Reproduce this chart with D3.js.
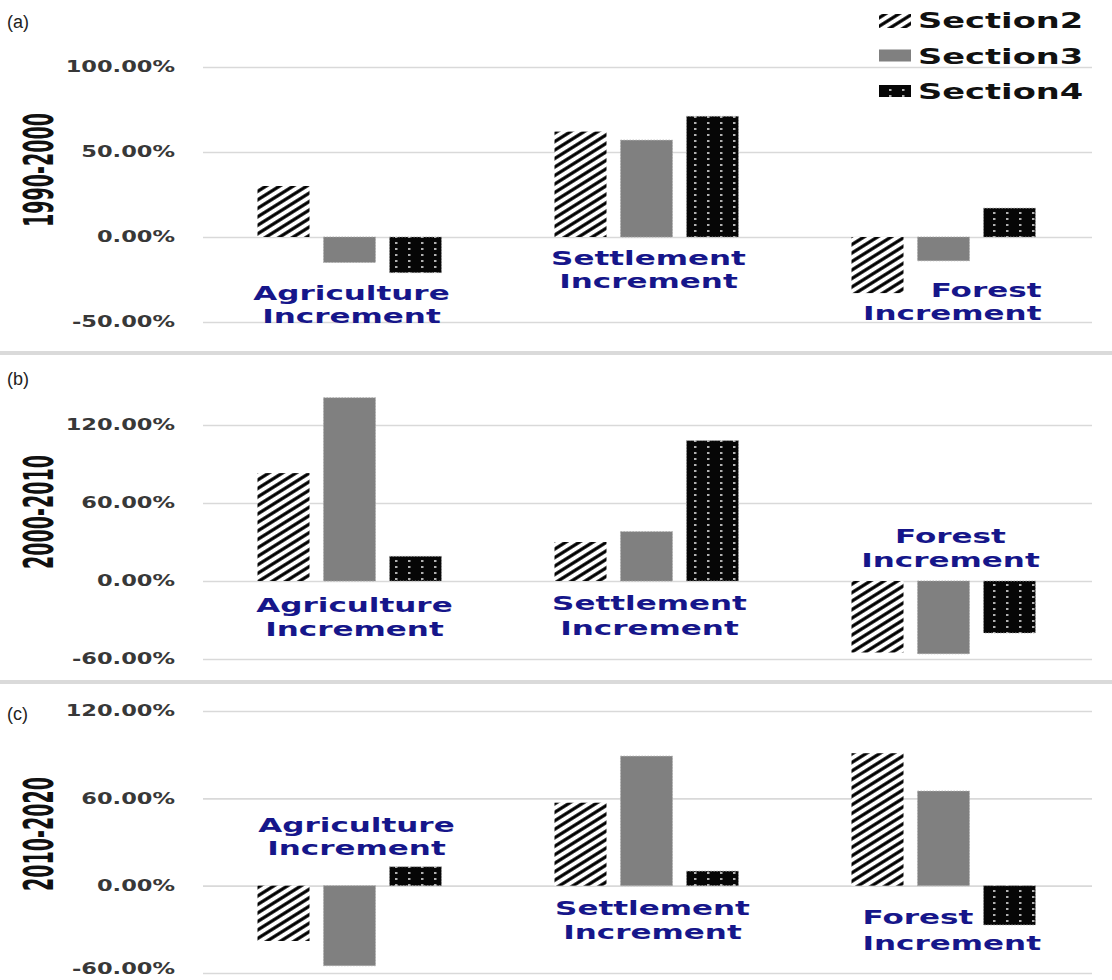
<!DOCTYPE html>
<html>
<head>
<meta charset="utf-8">
<script src="https://cdn.jsdelivr.net/npm/d3@7"></script>
<style>
  body { margin: 0; background: #fff; }
  svg { display: block; }
</style>
</head>
<body>
<div class="chart"></div>
<script>
const categories = ["Agriculture Increment", "Settlement Increment", "Forest Increment"];
const series = ["Section2", "Section3", "Section4"];
const periods = ["1990-2000", "2000-2010", "2010-2020"];
const panelLetters = ["(a)", "(b)", "(c)"];

// values in percent, one row per period, one column per category
const section2 = [[30, 62, -33], [83, 30, -55], [-38, 57, 91]];
const section3 = [[-15, 57, -14], [141, 38, -56], [-55, 89, 65]];
const section4 = [[-21, 71, 17], [19, 108, -40], [13, 10, -27]];

const ticks1990 = [-50, 0, 50, 100];
const ticks2000 = [-60, 0, 60, 120];
const ticks2010 = [-60, 0, 60, 120];

const width = 1112;
const height = 980;

const panels = [
  {domain: [-50, 100], range: [322, 67], ticks: ticks1990, letterY: 28, titleY: 170,
    labels: [{anchor: "middle", dx: 2, dy: [63, 86]}, {anchor: "middle", dx: 2, dy: [28, 51]},
      {anchor: "end", dx: 98, dy: [60, 83]}]},
  {domain: [-60, 120], range: [659, 425], ticks: ticks2000, letterY: 385, titleY: 512,
    labels: [{anchor: "middle", dx: 5, dy: [31, 55]}, {anchor: "middle", dx: 3, dy: [29, 54]},
      {anchor: "middle", dx: 7, dy: [-38, -14]}]},
  {domain: [-60, 120], range: [973, 711], ticks: ticks2010, letterY: 720, titleY: 834,
    labels: [{anchor: "middle", dx: 7, dy: [-54, -31]}, {anchor: "middle", dx: 6, dy: [29, 53]},
      {anchor: "start", dx: -81, dy: [38, 64]}]}
];

const seriesValues = [section2, section3, section4];
const fills = ["url(#hatch)", "#808080", "url(#dots)"];
const labelColor = "#16168a";

const stretch = (sel, k) => {
  sel.each(function () {
    const len = this.getComputedTextLength();
    d3.select(this).attr("textLength", len * k).attr("lengthAdjust", "spacingAndGlyphs");
  });
};

const svg = d3.select("div.chart").append("svg")
  .attr("width", width)
  .attr("height", height);

const defs = svg.append("defs");
const hatch = defs.append("pattern")
  .attr("id", "hatch")
  .attr("patternUnits", "userSpaceOnUse")
  .attr("width", 10)
  .attr("height", 7.2)
  .attr("patternTransform", "rotate(-32)");
hatch.append("rect").attr("width", 10).attr("height", 7.2).attr("fill", "#fff");
hatch.append("line").attr("x1", 0).attr("x2", 10).attr("y1", 3.6).attr("y2", 3.6)
  .attr("stroke", "#000").attr("stroke-width", 3.2);

const dots = defs.append("pattern")
  .attr("id", "dots")
  .attr("patternUnits", "userSpaceOnUse")
  .attr("width", 13)
  .attr("height", 6);
dots.append("rect").attr("width", 13).attr("height", 6).attr("fill", "#060606");
dots.append("rect").attr("x", 5).attr("y", 2).attr("width", 2.5).attr("height", 2).attr("fill", "#b0b0b0");

const x0 = d3.scaleBand().domain(categories).range([201, 1092]);
const x1 = d3.scaleBand().domain(series).range([-99, 99]).paddingInner(0.212).paddingOuter(0.106);

const fmt = (v) => (v < 0 ? "-" : "") + Math.abs(v).toFixed(2) + "%";

// panel separators
svg.selectAll("line.sep")
  .data([353, 682])
  .enter()
  .append("line")
  .attr("class", "sep")
  .attr("x1", 0).attr("x2", width)
  .attr("y1", (d) => d).attr("y2", (d) => d)
  .attr("stroke", "#dadada")
  .attr("stroke-width", 4);

panels.forEach((p, pi) => {
  const y = d3.scaleLinear().domain(p.domain).range(p.range);
  const g = svg.append("g").attr("class", "panel");

  const grid = g.append("g")
    .attr("transform", "translate(203, 0)")
    .call(d3.axisLeft(y).tickValues(p.ticks).tickSize(-889).tickFormat(""));
  grid.select(".domain").remove();
  grid.selectAll(".tick line").attr("stroke", "#d9d9d9").attr("stroke-width", 1.6);

  const axis = g.append("g")
    .attr("transform", "translate(201, 0)")
    .call(d3.axisLeft(y).tickValues(p.ticks).tickSize(0).tickPadding(26).tickFormat(fmt));
  axis.select(".domain").remove();
  axis.selectAll(".tick text")
    .attr("font-family", "DejaVu Sans")
    .attr("font-weight", "bold")
    .attr("font-size", 15)
    .attr("fill", "#383838")
    // keep the lowest label inside the page
    .attr("dy", (d) => y(d) > height - 12 ? "0.05em" : "0.32em")
    .call(stretch, 1.5);

  // bars
  series.forEach((s, si) => {
    g.append("g")
      .selectAll("rect")
      .data(categories.map((c, ci) => ({c, v: seriesValues[si][pi][ci]})))
      .enter()
      .append("rect")
      .attr("x", (d) => x0(d.c) + x0.bandwidth() / 2 + x1(s))
      .attr("width", x1.bandwidth())
      .attr("y", (d) => y(Math.max(0, d.v)))
      .attr("height", (d) => Math.abs(y(d.v) - y(0)))
      .attr("fill", fills[si])
      .attr("stroke", si === 0 ? "none" : "#a8a8a8")
      .attr("stroke-width", 0.8)
      .attr("stroke-dasharray", "1.5,1.5");
  });

  // category labels
  categories.forEach((c, ci) => {
    const lab = p.labels[ci];
    const words = c.split(" ");
    g.append("g")
      .selectAll("text")
      .data(words)
      .enter()
      .append("text")
      .attr("x", x0(c) + x0.bandwidth() / 2 + lab.dx)
      .attr("y", (d, i) => y(0) + lab.dy[i])
      .attr("text-anchor", lab.anchor)
      .attr("font-family", "DejaVu Sans")
      .attr("font-weight", "bold")
      .attr("font-size", 20)
      .attr("fill", labelColor)
      .text((d) => d)
      .call(stretch, 1.55);
  });

  g.append("text")
    .attr("x", 7)
    .attr("y", p.letterY)
    .attr("font-family", "Liberation Sans")
    .attr("font-size", 18)
    .attr("fill", "#222")
    .text(panelLetters[pi]);

  g.append("text")
    .attr("transform", `translate(53, ${p.titleY}) rotate(-90)`)
    .attr("text-anchor", "middle")
    .attr("font-family", "Liberation Sans Narrow, DejaVu Sans Condensed")
    .attr("font-weight", "bold")
    .attr("font-size", 41)
    .attr("textLength", 114)
    .attr("lengthAdjust", "spacingAndGlyphs")
    .attr("fill", "#111")
    .text(periods[pi]);
});

// legend
const legend = svg.append("g").attr("class", "legend");
const legendItems = legend.selectAll("g")
  .data(series)
  .enter()
  .append("g")
  .attr("transform", (d, i) => `translate(0, ${28 + i * 35.5})`);
legendItems.append("rect")
  .attr("x", 879)
  .attr("y", -14)
  .attr("width", 32)
  .attr("height", (d, i) => i === 0 ? 14 : 12)
  .attr("fill", (d, i) => fills[i]);
legendItems.append("text")
  .attr("x", 918)
  .attr("y", 0)
  .attr("font-family", "DejaVu Sans")
  .attr("font-weight", "bold")
  .attr("font-size", 22)
  .attr("fill", "#111")
  .text((d) => d)
  .call(stretch, 1.53);
</script>
</body>
</html>
